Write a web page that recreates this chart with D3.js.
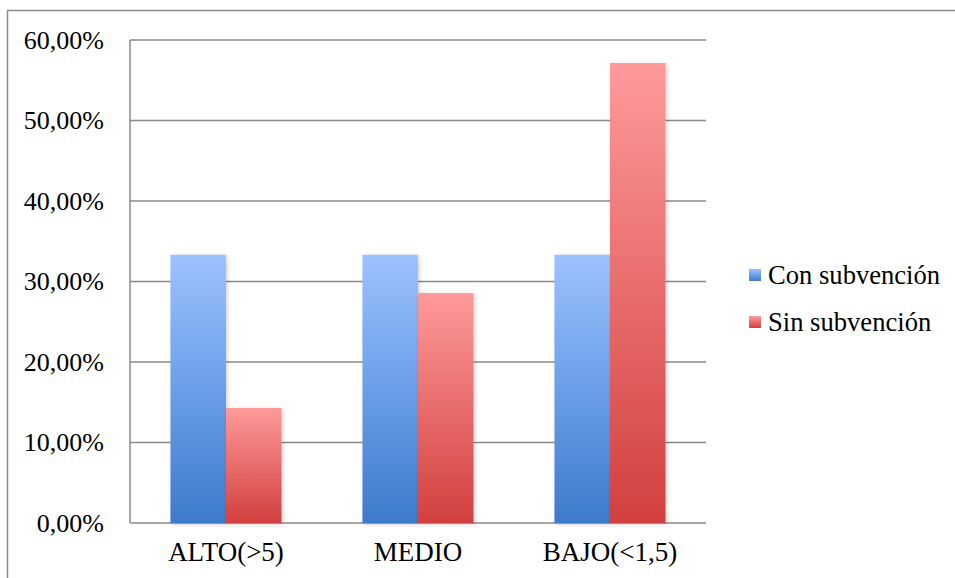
<!DOCTYPE html>
<html>
<head>
<meta charset="utf-8">
<script src="https://cdn.jsdelivr.net/npm/d3@7"></script>
<style>
  html, body { margin: 0; padding: 0; background: #fff; }
  svg { display: block; }
</style>
</head>
<body>
<svg id="chart" width="955" height="578"></svg>
<script>
// Niveles de ingreso y porcentaje de hogares por grupo
const categories = ["ALTO(>5)", "MEDIO", "BAJO(<1,5)"];
const seriesNames = ["Con subvención", "Sin subvención"];
const conSubvencion = [0.3333, 0.3333, 0.3333];
const sinSubvencion = [0.1429, 0.2857, 0.5714];
const yTicks = [0, 0.1, 0.2, 0.3, 0.4, 0.5, 0.6];

const FONT = '"Times New Roman", "Liberation Serif", Tinos, "Nimbus Roman", FreeSerif, serif';
const svg = d3.select("#chart").style("font-family", FONT);
const W = 955, H = 578;
const plot = { left: 130, top: 40, right: 706, bottom: 523 };

// Marco exterior del gráfico
svg.append("rect")
  .attr("x", 7.5).attr("y", 10.5)
  .attr("width", W + 20).attr("height", H + 20)
  .attr("fill", "#fff").attr("stroke", "#8c8c8c").attr("stroke-width", 1.5);

const defs = svg.append("defs");
const gradients = [
  { id: "gradBlue", top: "#9cc2ff", mid: "#6c9ee8", bottom: "#3c7bcb" },
  { id: "gradRed", top: "#ff9a9a", mid: "#e86c6c", bottom: "#d2403f" }
];
gradients.forEach(g => {
  const lg = defs.append("linearGradient").attr("id", g.id)
    .attr("x1", 0).attr("y1", 0).attr("x2", 0).attr("y2", 1);
  lg.append("stop").attr("offset", "0%").attr("stop-color", g.top);
  lg.append("stop").attr("offset", "50%").attr("stop-color", g.mid);
  lg.append("stop").attr("offset", "100%").attr("stop-color", g.bottom);
});
const shadow = defs.append("filter").attr("id", "shadow")
  .attr("x", "-20%").attr("y", "-10%").attr("width", "150%").attr("height", "130%");
shadow.append("feDropShadow").attr("dx", 1.5).attr("dy", 1.5)
  .attr("stdDeviation", 2).attr("flood-color", "#000").attr("flood-opacity", 0.18);

const x0 = d3.scaleBand().domain(categories)
  .range([plot.left, plot.right]).paddingInner(0.4215).paddingOuter(0.21075);
const x1 = d3.scaleBand().domain(seriesNames).range([0, x0.bandwidth()]);
const y = d3.scaleLinear().domain([0, 0.6]).range([plot.bottom, plot.top]);

const fmt = v => d3.format(".2f")(v * 100).replace(".", ",") + "%";

// Líneas de división horizontales
svg.append("g").selectAll("line").data(yTicks).join("line")
  .attr("x1", plot.left).attr("x2", plot.right)
  .attr("y1", d => y(d)).attr("y2", d => y(d))
  .attr("stroke", "#8a8a8a").attr("stroke-width", 1.5);

// Eje vertical
svg.append("line")
  .attr("x1", plot.left).attr("x2", plot.left)
  .attr("y1", plot.top).attr("y2", plot.bottom)
  .attr("stroke", "#8a8a8a").attr("stroke-width", 1.5);

// Etiquetas del eje Y
svg.append("g").selectAll("text").data(yTicks).join("text")
  .attr("x", 104).attr("y", d => y(d))
  .attr("dy", "0.33em").attr("text-anchor", "end")
  .style("font-family", FONT).style("font-size", "26px").attr("fill", "#000")
  .text(fmt);

// Barras
const rows = categories.map((c, i) => ({ cat: c, values: [conSubvencion[i], sinSubvencion[i]] }));
const groups = svg.append("g").selectAll("g").data(rows).join("g")
  .attr("transform", d => `translate(${x0(d.cat)},0)`);
groups.selectAll("rect")
  .data(d => d.values.map((v, j) => ({ name: seriesNames[j], v, j })))
  .join("rect")
  .attr("x", d => x1(d.name))
  .attr("y", d => y(d.v))
  .attr("width", x1.bandwidth())
  .attr("height", d => y(0) - y(d.v))
  .attr("fill", d => `url(#${gradients[d.j].id})`)
  .attr("filter", "url(#shadow)");

// Etiquetas de categorías
svg.append("g").selectAll("text").data(categories).join("text")
  .attr("x", d => x0(d) + x0.bandwidth() / 2)
  .attr("y", 552).attr("dy", "0.33em")
  .attr("text-anchor", "middle")
  .style("font-family", FONT).style("font-size", "27px").attr("fill", "#000")
  .text(d => d);

// Leyenda
const legend = svg.append("g").selectAll("g").data(seriesNames).join("g")
  .attr("transform", (d, i) => `translate(749,${275 + i * 47})`);
legend.append("rect")
  .attr("x", 0).attr("y", -6).attr("width", 12).attr("height", 12)
  .attr("fill", (d, i) => `url(#${gradients[i].id})`);
legend.append("text")
  .attr("x", 19).attr("y", 0).attr("dy", "0.33em")
  .style("font-family", FONT).style("font-size", "26.6px").attr("fill", "#000")
  .text(d => d);
</script>
</body>
</html>
